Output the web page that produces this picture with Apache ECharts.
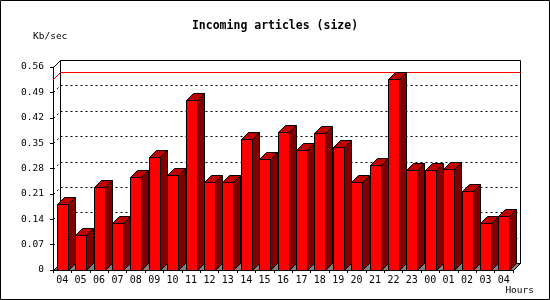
<!DOCTYPE html>
<html>
<head>
<meta charset="utf-8">
<script src="https://cdn.jsdelivr.net/npm/echarts@6/dist/echarts.min.js"></script>
<style>
html,body{margin:0;padding:0;background:#fff;}
#chart{width:550px;height:300px;}
</style>
</head>
<body>
<div id="chart"></div>
<script>
// ---- data ----
const hours = ['04','05','06','07','08','09','10','11','12','13','14','15','16','17','18','19','20','21','22','23','00','01','02','03','04'];
const kbPerSec = [0.181,0.096,0.228,0.129,0.256,0.311,0.261,0.468,0.242,0.244,0.361,0.306,0.380,0.331,0.377,0.338,0.244,0.291,0.528,0.275,0.275,0.280,0.217,0.129,0.149];
const yTicks = [0,0.07,0.14,0.21,0.28,0.35,0.42,0.49,0.56];
const titleText = 'Incoming articles (size)';
const yUnit = 'Kb/sec';
const xUnit = 'Hours';

const FONT = '"DejaVu Sans Mono", monospace';
const D = 7;
const yMax = yTicks[yTicks.length - 1];
const maxVal = Math.max.apply(null, kbPerSec);
const r = v => Math.round(v) + 0.5;

function renderWalls(params, api) {
  const bw = api.size([1, 0])[0];
  const first = api.coord([0, 0]);
  const last = api.coord([hours.length - 1, yMax]);
  const X0 = r(first[0] - bw / 2), X1 = r(last[0] + bw / 2);
  const Y0 = r(first[1]), Yt = r(last[1]);
  const ch = [];
  ch.push({type:'polygon', shape:{points:[[X0+D,Yt-D],[X1+D,Yt-D],[X1+D,Y0-D],[X0+D,Y0-D]]}, style:{fill:'#fff', stroke:'#000', lineWidth:1}});
  ch.push({type:'polygon', shape:{points:[[X0,Yt],[X0+D,Yt-D],[X0+D,Y0-D],[X0,Y0]]}, style:{fill:'#fff', stroke:'#000', lineWidth:1}});
  ch.push({type:'polygon', shape:{points:[[X0,Y0],[X0+D,Y0-D],[X1+D,Y0-D],[X1,Y0]]}, style:{fill:'#808080', stroke:'#000', lineWidth:1}});
  yTicks.forEach(v => {
    if (v <= 0 || v >= yMax) return;
    const yy = r(api.coord([0, v])[1]);
    ch.push({type:'line', shape:{x1:X0 + D, y1:yy - D, x2:X1 + D, y2:yy - D}, style:{stroke:'#000', lineWidth:1, lineDash:[2,3]}});
    ch.push({type:'line', shape:{x1:X0, y1:yy, x2:X0 + D, y2:yy - D}, style:{stroke:'#000', lineWidth:1, lineDash:[2,3]}});
  });
  const ym = r(api.coord([0, maxVal])[1]);
  ch.push({type:'line', shape:{x1:X0 + D, y1:ym - D, x2:X1 + D, y2:ym - D}, style:{stroke:'#ff0000', lineWidth:1}});
  ch.push({type:'line', shape:{x1:X0, y1:ym, x2:X0 + D, y2:ym - D}, style:{stroke:'#ff0000', lineWidth:1}});
  return {type:'group', children:ch};
}

function renderBar(params, api) {
  const i = api.value(0), v = api.value(1);
  const base = api.coord([i, 0]), top = api.coord([i, v]);
  const bw = api.size([1, 0])[0];
  const fw = Math.round(bw * 0.6);
  const xl = Math.round(base[0] - fw / 2) + 0.5, xr = xl + fw;
  const yb = r(base[1]), yt = r(top[1]);
  return {type:'group', children:[
    {type:'polygon', shape:{points:[[xr,yb],[xr+D,yb-D],[xr+D,yt-D],[xr,yt]]}, style:{fill:'#800000', stroke:'#000', lineWidth:1}},
    {type:'polygon', shape:{points:[[xl,yt],[xl+D,yt-D],[xr+D,yt-D],[xr,yt]]}, style:{fill:'#c00000', stroke:'#000', lineWidth:1}},
    {type:'polygon', shape:{points:[[xl,yt],[xr,yt],[xr,yb],[xl,yb]]}, style:{fill:'#ff0000', stroke:'#000', lineWidth:1}}
  ]};
}

const chart = echarts.init(document.getElementById('chart'), null, {renderer:'canvas'});
chart.setOption({
  animation:false,
  backgroundColor:'#fff',
  title:{text:titleText, left:'center', top:20, padding:0,
    textStyle:{fontFamily:FONT, fontSize:11.5, fontWeight:'bold', color:'#000'}},
  grid:{left:53, right:37, top:67, bottom:30, containLabel:false},
  xAxis:{type:'category', data:hours, boundaryGap:true,
    axisLine:{show:true, lineStyle:{color:'#000', width:1}},
    axisTick:{show:true, length:3, interval:0, lineStyle:{color:'#000'}},
    axisLabel:{interval:0, margin:5, color:'#000', fontFamily:FONT, fontSize:10},
    splitLine:{show:false}},
  yAxis:{type:'value', min:0, max:yMax, interval:0.07,
    axisLine:{show:true, lineStyle:{color:'#000', width:1}},
    axisTick:{show:true, length:3, lineStyle:{color:'#000'}},
    axisLabel:{margin:9, color:'#000', fontFamily:FONT, fontSize:9.5,
      formatter:v => v === 0 ? '0' : v.toFixed(2)},
    splitLine:{show:false}},
  graphic:[
    {type:'rect', shape:{x:0.5, y:0.5, width:549, height:299}, style:{fill:null, stroke:'#000', lineWidth:1}, z:100},
    {type:'text', left:33, top:32, style:{text:yUnit, fontFamily:FONT, fontSize:9.5, fill:'#000'}},
    {type:'text', right:16, top:286, style:{text:xUnit, fontFamily:FONT, fontSize:9.5, fill:'#000'}}
  ],
  series:[
    {type:'custom', name:'walls', coordinateSystem:'cartesian2d', data:[[0,0]], renderItem:renderWalls, z:1, silent:true, clip:false},
    {type:'custom', name:'size', coordinateSystem:'cartesian2d', data:kbPerSec.map((v,i)=>[i,v]), renderItem:renderBar, z:2, clip:false}
  ]
});
</script>
</body>
</html>
